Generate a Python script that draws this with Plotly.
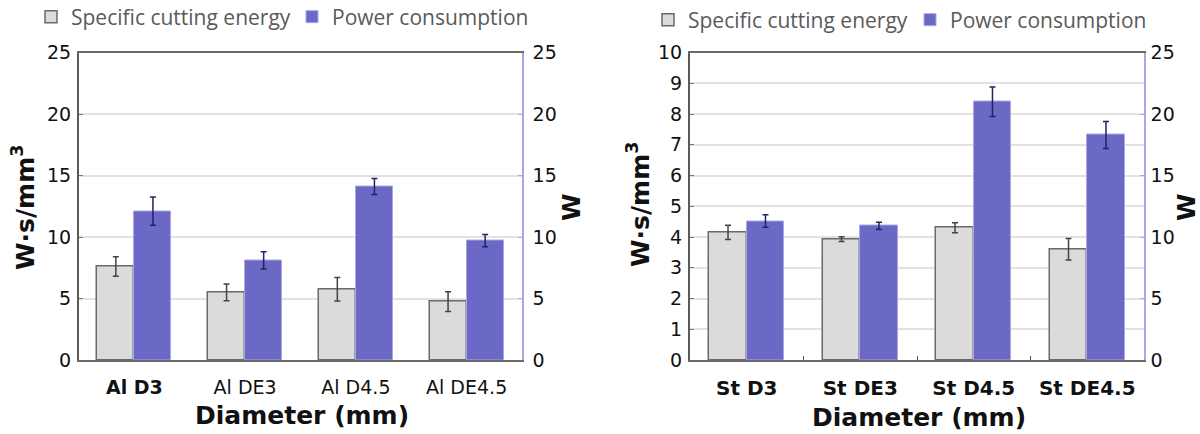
import plotly.graph_objects as go

# ---------------- data ----------------
al_categories = ["<b>Al D3</b>", "Al DE3", "Al D4.5", "Al DE4.5"]
al_energy = [7.6, 5.5, 5.75, 4.75]
al_energy_err = [0.8, 0.68, 0.95, 0.8]
al_power = [12.1, 8.1, 14.1, 9.7]
al_power_err = [1.15, 0.7, 0.65, 0.5]

st_categories = ["St D3", "St DE3", "St D4.5", "St DE4.5"]
st_energy = [4.15, 3.93, 4.3, 3.6]
st_energy_err = [0.23, 0.08, 0.16, 0.35]
st_power = [11.3, 10.9, 21.0, 18.3]
st_power_err = [0.5, 0.3, 1.2, 1.1]

left_ticks_al = [0, 5, 10, 15, 20, 25]
left_ticks_st = [0, 1, 2, 3, 4, 5, 6, 7, 8, 9, 10]
right_ticks = [0, 5, 10, 15, 20, 25]

# ---------------- style ----------------
W, H = 1200, 434
GREY = "#dbdbdb"
GREY_EDGE = "#6a6a6a"
BLUE = "#6b68c6"
BLUE_EDGE = "#a9a7e6"
PURPLE_AXIS = "#aaa8e2"
FONT = "DejaVu Sans"
BW1 = 0.335
BW2 = 0.33

def px(x):
    return x / W

def py(y):
    return 1 - y / H

fig = go.Figure()

def add_panel(cats, e, ee, p, pe, xa, ya, ya2, bw, leg_a, leg_b):
    fig.add_trace(go.Bar(
        x=cats, y=e, name="Specific cutting energy", xaxis=xa, yaxis=ya,
        width=bw, offset=-bw, marker=dict(color=GREY, line=dict(color=GREY_EDGE, width=1.5)),
        error_y=dict(type="data", array=ee, color="#444444", thickness=1.5, width=3),
        legend=leg_a, showlegend=True))
    fig.add_trace(go.Bar(
        x=cats, y=p, name="Power consumption", xaxis=xa, yaxis=ya2,
        width=bw, offset=0, marker=dict(color=BLUE, line=dict(color=BLUE_EDGE, width=1)),
        error_y=dict(type="data", array=pe, color="#23235e", thickness=1.5, width=3),
        legend=leg_b, showlegend=True))

add_panel(al_categories, al_energy, al_energy_err, al_power, al_power_err,
          "x", "y", "y2", BW1, "legend", "legend2")
add_panel(st_categories, st_energy, st_energy_err, st_power, st_power_err,
          "x2", "y3", "y4", BW2, "legend3", "legend4")

ydom = [py(360), py(52.5)]
tickfont = dict(family=FONT, size=19, color="#111111")

xcommon = dict(showline=True, linecolor="#6a6a6a", linewidth=2, mirror=True,
               showgrid=False, zeroline=False, fixedrange=True, automargin=False)
fig.update_layout(
    xaxis=dict(domain=[px(79), px(522)], anchor="y", ticklabelstandoff=9,
               tickfont=dict(family=FONT, size=19, color="#111111"), **xcommon),
    xaxis2=dict(domain=[px(690), px(1144)], anchor="y3", ticklabelstandoff=9,
                ticks="inside", tickson="boundaries", ticklen=4, tickcolor="#555555",
                tickfont=dict(family=FONT, size=20, color="#111111", weight="bold"),
                **xcommon),
    yaxis=dict(domain=ydom, anchor="x", range=[0, 25], tickvals=left_ticks_al,
               showgrid=True, gridcolor="#e2e2e2", gridwidth=1.5,
               showline=True, linecolor="#5a5a5a", linewidth=2,
               ticks="inside", ticklen=4, tickcolor="#777777", automargin=False,
               zeroline=False, tickfont=tickfont, ticklabelstandoff=2),
    yaxis2=dict(domain=ydom, anchor="x", overlaying="y", side="right", range=[0, 25],
                tickvals=right_ticks, showgrid=False, showline=True,
                linecolor=PURPLE_AXIS, linewidth=1.5, ticks="inside", ticklen=4,
                tickcolor=PURPLE_AXIS, zeroline=False, tickfont=tickfont,
                ticklabelstandoff=5, automargin=False),
    yaxis3=dict(domain=ydom, anchor="x2", range=[0, 10], tickvals=left_ticks_st,
                showgrid=True, gridcolor="#e2e2e2", gridwidth=1.5,
                showline=True, linecolor="#5a5a5a", linewidth=2,
                ticks="inside", ticklen=4, tickcolor="#777777", automargin=False,
                zeroline=False, tickfont=tickfont, ticklabelstandoff=2),
    yaxis4=dict(domain=ydom, anchor="x2", overlaying="y3", side="right", range=[0, 25],
                tickvals=right_ticks, showgrid=False, showline=True,
                linecolor=PURPLE_AXIS, linewidth=1.5, ticks="inside", ticklen=4,
                tickcolor=PURPLE_AXIS, zeroline=False, tickfont=tickfont,
                ticklabelstandoff=1, automargin=False),
)

legfont = dict(family="Open Sans", size=21, color="#5a5a5a")
def leg(xpix, ypix):
    return dict(x=px(xpix), y=py(ypix), xanchor="left", yanchor="middle",
                orientation="h", font=legfont, bgcolor="rgba(0,0,0,0)",
                itemwidth=30, tracegroupgap=0)

fig.update_layout(
    legend=leg(31, 17),
    legend2=leg(292, 17),
    legend3=leg(648, 20),
    legend4=leg(910, 20),
)

ann_font_b = dict(family=FONT, size=25, color="#111111", weight="bold")
annotations = [
    dict(text="W·s/mm<sup>3</sup>", x=px(24), y=py(208), textangle=-90),
    dict(text="W", x=px(571), y=py(207), textangle=-90),
    dict(text="Diameter (mm)", x=px(302), y=py(415)),
    dict(text="W·s/mm<sup>3</sup>", x=px(638), y=py(205), textangle=-90),
    dict(text="W", x=px(1186), y=py(207), textangle=-90),
    dict(text="Diameter (mm)", x=px(919), y=py(417)),
]
for a in annotations:
    fig.add_annotation(xref="paper", yref="paper", showarrow=False,
                       xanchor="center", yanchor="middle", font=ann_font_b, **a)

fig.update_layout(
    width=W, height=H, margin=dict(l=0, r=0, t=0, b=0, autoexpand=False),
    paper_bgcolor="white", plot_bgcolor="white",
    barmode="overlay", bargap=0, showlegend=True,
)

fig.write_html(
    "out.html",
    config={"displayModeBar": False},
    post_script="document.body.style.margin='0';document.body.style.overflow='hidden';",
)
